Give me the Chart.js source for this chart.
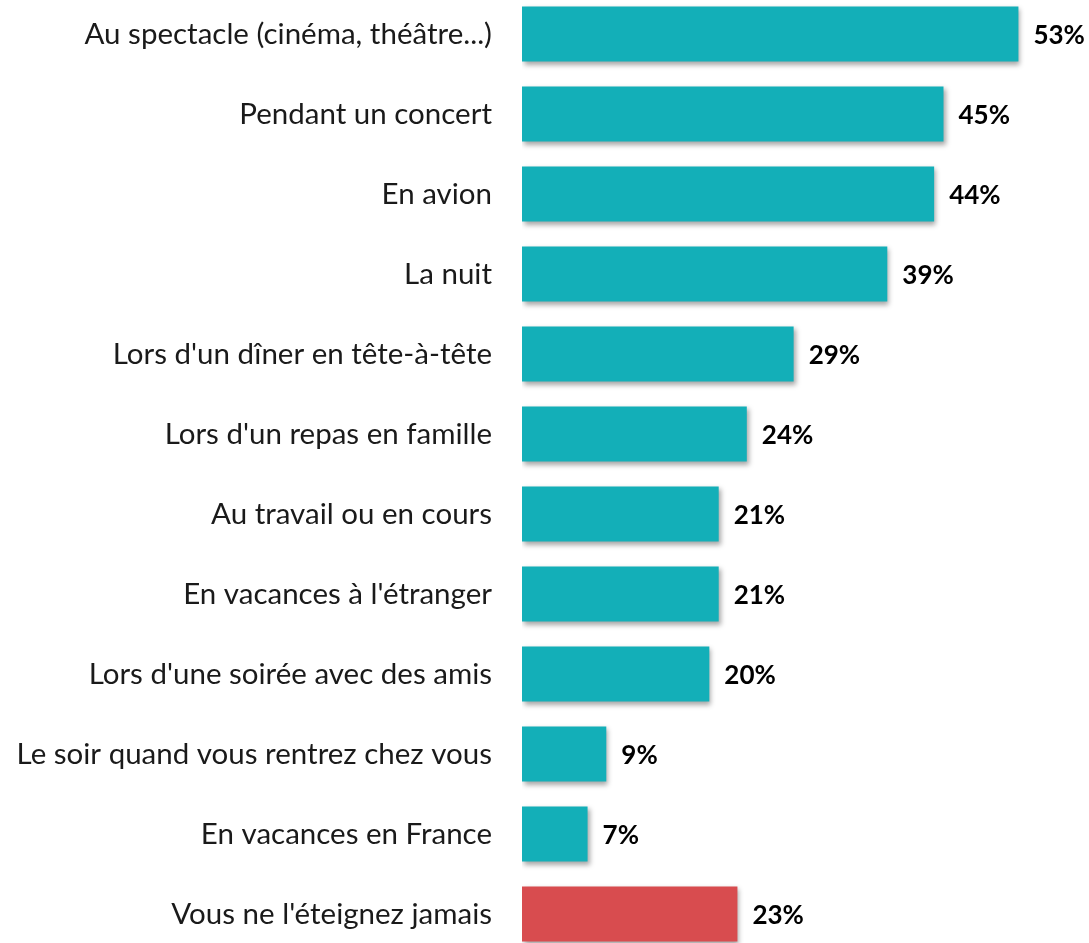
<!DOCTYPE html>
<html><head><meta charset="utf-8">
<script src="https://cdn.jsdelivr.net/npm/chart.js@4.4.0/dist/chart.umd.min.js"></script>
<style>
html,body{margin:0;padding:0;background:#fff;overflow:hidden;}
#c{position:absolute;left:0;top:-6px;}
</style></head>
<body><canvas id="c" width="1089" height="960"></canvas>
<script>
const categories = ["Au spectacle (cinéma, théâtre...)","Pendant un concert","En avion","La nuit","Lors d'un dîner en tête-à-tête","Lors d'un repas en famille","Au travail ou en cours","En vacances à l'étranger","Lors d'une soirée avec des amis","Le soir quand vous rentrez chez vous","En vacances en France","Vous ne l'éteignez jamais"];
const values = [53,45,44,39,29,24,21,21,20,9,7,23];
const barColors = ["#13AFB8","#13AFB8","#13AFB8","#13AFB8","#13AFB8","#13AFB8","#13AFB8","#13AFB8","#13AFB8","#13AFB8","#13AFB8","#D84C4F"];

const shadowPlugin = {
  id:'shadow',
  beforeDatasetsDraw(chart){const c=chart.ctx;c.save();c.shadowColor='rgba(0,0,0,0.35)';c.shadowBlur=5;c.shadowOffsetX=2;c.shadowOffsetY=3;},
  afterDatasetsDraw(chart){chart.ctx.restore();}
};
const valuePlugin = {
  id:'vals',
  afterDatasetsDraw(chart){
    const c=chart.ctx;const meta=chart.getDatasetMeta(0);
    c.save();c.font='bold 26px Lato';c.fillStyle='#000';c.textAlign='left';c.textBaseline='middle';
    meta.data.forEach((el,i)=>{c.fillText(values[i]+'%',el.x+15,el.y+2);});
    c.restore();
  }
};
new Chart(document.getElementById('c'),{
  type:'bar',
  data:{labels:categories,datasets:[{data:values,backgroundColor:barColors,borderWidth:0,categoryPercentage:1,barPercentage:0.69}]},
  options:{
    indexAxis:'y',responsive:false,maintainAspectRatio:false,animation:false,devicePixelRatio:1,
    layout:{padding:{left:0,right:5,top:0,bottom:0}},
    plugins:{legend:{display:false},tooltip:{enabled:false}},
    scales:{
      x:{display:false,min:0,max:60},
      y:{grid:{display:false,drawTicks:false},border:{display:false},
        ticks:{color:'#1a1a1a',font:{family:'Lato',size:29.5},padding:30,autoSkip:false},
        afterFit(s){s.width=522;s.paddingTop=0;s.paddingBottom=0;}}
    }
  },
  plugins:[shadowPlugin,valuePlugin]
});
</script></body></html>
